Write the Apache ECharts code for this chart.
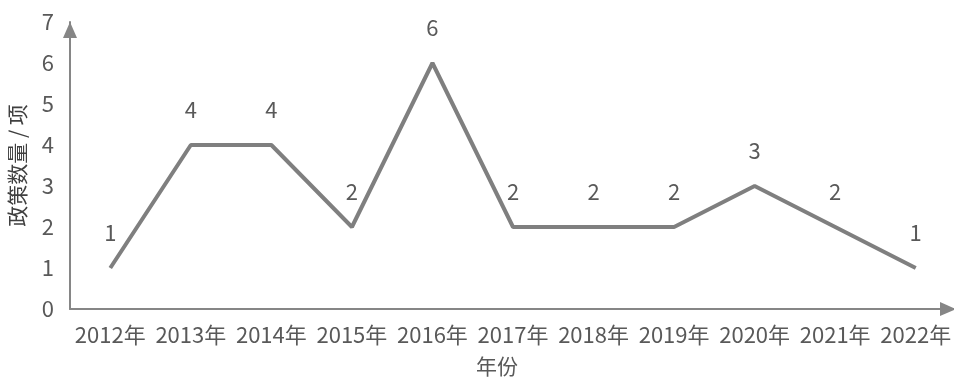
<!DOCTYPE html>
<html>
<head>
<meta charset="utf-8">
<script src="https://cdn.jsdelivr.net/npm/echarts@6/dist/echarts.min.js"></script>
<style>html,body{margin:0;padding:0;background:#fff}#c{width:954px;height:377px}</style>
</head>
<body>
<div id="c"></div>
<script>
var categories = ['2012年','2013年','2014年','2015年','2016年','2017年','2018年','2019年','2020年','2021年','2022年'];
var values = [1, 4, 4, 2, 6, 2, 2, 2, 3, 2, 1];
var yTicks = [0, 1, 2, 3, 4, 5, 6, 7];
var yName = '政策数量 / 项';
var xName = '年份';

var FONT = '"Noto Sans CJK SC", "Noto Sans", sans-serif';
var chart = echarts.init(document.getElementById('c'), null, {renderer: 'canvas'});
chart.setOption({
  animation: false,
  backgroundColor: '#ffffff',
  title: {
    text: xName,
    left: 492, top: 351,
    textAlign: 'center',
    textStyle: {fontFamily: FONT, fontSize: 21, fontWeight: 'normal', color: '#595959'}
  },
  grid: {left: 70, right: -2, top: 22, bottom: 68, containLabel: false, outerBoundsMode: 'none'},
  xAxis: {
    type: 'category',
    data: categories,
    boundaryGap: true,
    axisLine: {show: true, lineStyle: {color: '#868686', width: 2}, symbol: ['none', 'triangle'], symbolSize: [14, 16], symbolOffset: [0, -8]},
    axisTick: {show: false},
    axisLabel: {fontFamily: FONT, fontSize: 22, color: '#595959', margin: 15, interval: 0}
  },
  yAxis: {
    type: 'value',
    min: yTicks[0], max: yTicks[yTicks.length - 1], interval: 1,
    name: yName,
    nameLocation: 'middle',
    nameGap: 42,
    nameRotate: 90,
    nameTextStyle: {fontFamily: FONT, fontSize: 21, color: '#404040'},
    axisLine: {show: true, lineStyle: {color: '#868686', width: 2}, symbol: ['none', 'triangle'], symbolSize: [14, 16], symbolOffset: [0, -8]},
    axisTick: {show: false},
    splitLine: {show: false},
    axisLabel: {fontFamily: FONT, fontSize: 22, color: '#595959', margin: 16}
  },
  series: [{
    type: 'line',
    data: values,
    symbol: 'circle',
    symbolSize: 0,
    showSymbol: true,
    itemStyle: {color: '#7f7f7f'},
    lineStyle: {color: '#7f7f7f', width: 4},
    label: {show: true, position: 'top', distance: 24, fontFamily: FONT, fontSize: 22, color: '#595959'}
  }]
});
</script>
</body>
</html>
